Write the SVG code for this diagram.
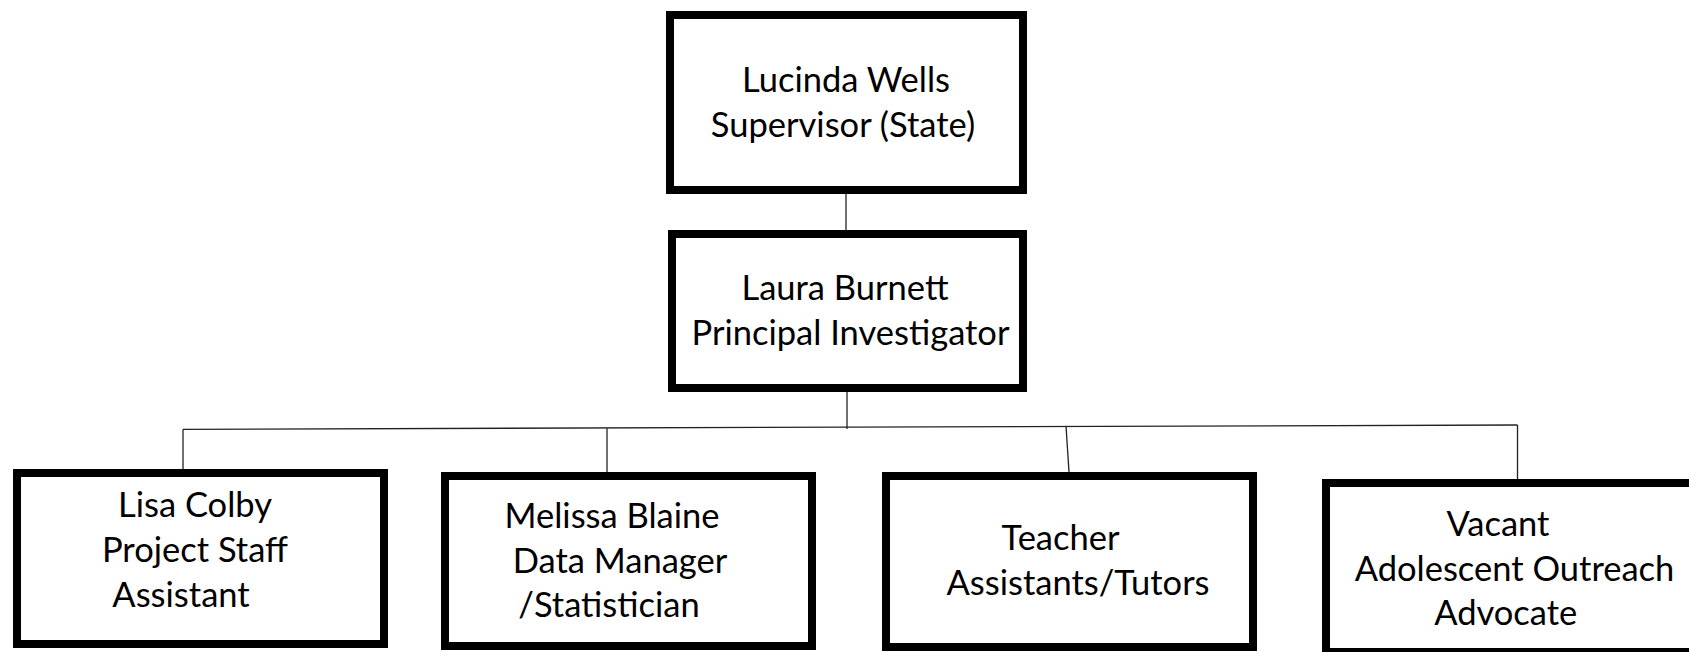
<svg xmlns="http://www.w3.org/2000/svg" width="1689" height="652" viewBox="0 0 1689 652">
<style>
.box{fill:#fff;stroke:#000;stroke-width:8}
.t{font-family:Lato,"Open Sans","Liberation Sans",sans-serif;font-size:34.5px;fill:#000;text-anchor:middle}
.c{stroke:#222;stroke-width:1.3;fill:none}
</style>
<rect width="1689" height="652" fill="#fff"/>
<g id="connectors">
<line class="c" x1="846" y1="194" x2="846" y2="230"/>
<line class="c" x1="847" y1="392" x2="847" y2="429"/>
<line class="c" x1="183" y1="429.3" x2="1517.5" y2="425"/>
<line class="c" x1="183" y1="429.3" x2="183" y2="469"/>
<line class="c" x1="607" y1="428.3" x2="607" y2="472"/>
<line class="c" x1="1066" y1="426" x2="1069" y2="472"/>
<line class="c" x1="1517.5" y1="425" x2="1517.5" y2="479"/>
</g>
<g id="supervisor">
<rect class="box" x="670" y="15" width="353" height="175"/>
<text class="t" x="846" y="92">Lucinda Wells</text>
<text class="t" x="843" y="137">Supervisor (State)</text>
</g>
<g id="pi">
<rect class="box" x="672" y="234" width="351" height="154"/>
<text class="t" x="845" y="300">Laura Burnett</text>
<text class="t" x="850.5" y="345">Principal Investigator</text>
</g>
<g id="lisa">
<rect class="box" x="17" y="473" width="367" height="171"/>
<text class="t" x="195" y="517">Lisa Colby</text>
<text class="t" x="195" y="562">Project Staff</text>
<text class="t" x="181" y="607">Assistant</text>
</g>
<g id="melissa">
<rect class="box" x="445" y="476" width="367" height="170"/>
<text class="t" x="612" y="528">Melissa Blaine</text>
<text class="t" x="620" y="573">Data Manager</text>
<text class="t" x="609" y="617">/Statistician</text>
</g>
<g id="teacher">
<rect class="box" x="886" y="476" width="367" height="171"/>
<text class="t" x="1060.5" y="550">Teacher</text>
<text class="t" x="1078" y="595">Assistants/Tutors</text>
</g>
<g id="vacant">
<rect class="box" x="1326" y="483" width="367" height="169"/>
<text class="t" x="1498" y="536">Vacant</text>
<text class="t" x="1514.5" y="581">Adolescent Outreach</text>
<text class="t" x="1505.7" y="625">Advocate</text>
</g>
</svg>
